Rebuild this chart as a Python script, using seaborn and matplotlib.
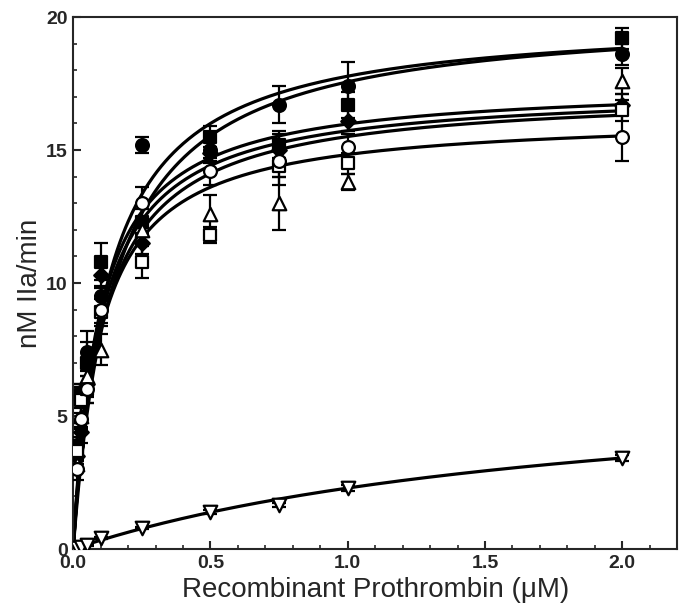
import numpy as np
import pandas as pd
import matplotlib
matplotlib.use('Agg')
import matplotlib.pyplot as plt
import seaborn as sns
from matplotlib.ticker import MultipleLocator

# Substrate concentration (uM)
prothrombin = [0, 0.015, 0.03, 0.05, 0.1, 0.25, 0.5, 0.75, 1.0, 2.0]

# Rates of IIa formation (nM IIa/min), with error bars
rate_fcircle = [0, 3.9, 5.9, 7.4, 9.5, 15.2, 15.0, 16.7, 17.4, 18.6]
err_fcircle = [0, 0.3, 0.3, 0.4, 0.4, 0.3, 0.4, 0.7, 0.9, 0.4]
rate_fsquare = [0, 3.6, 5.8, 7.0, 10.8, 12.3, 15.5, 15.2, 16.7, 19.2]
err_fsquare = [0, 0.3, 0.4, 1.2, 0.7, 0.5, 0.4, 0.5, 0.5, 0.4]
rate_fdiamond = [0, 3.5, 4.4, 6.2, 10.3, 11.5, 14.9, 15.0, 16.1, 16.7]
err_fdiamond = [0, 0.3, 0.4, 0.5, 0.5, 0.4, 0.4, 0.6, 0.4, 0.4]
rate_osquare = [0, 3.7, 5.6, 6.0, 8.9, 10.8, 11.8, 14.4, 14.5, 16.5]
err_osquare = [0, 0.4, 0.5, 0.5, 0.5, 0.6, 0.3, 0.7, 0.4, 0.4]
rate_otriangle = [0, 3.2, 5.0, 6.5, 7.5, 12.0, 12.6, 13.0, 13.8, 17.6]
err_otriangle = [0, 0.3, 0.4, 0.5, 0.6, 0.5, 0.7, 1.0, 0.3, 0.5]
rate_ocircle = [0, 3.0, 4.9, 6.0, 9.0, 13.0, 14.2, 14.6, 15.1, 15.5]
err_ocircle = [0, 0.4, 0.4, 0.5, 0.5, 0.6, 0.5, 0.6, 0.5, 0.9]
rate_otridown = [0, 0.03, 0.08, 0.15, 0.41, 0.79, 1.39, 1.65, 2.29, 3.42]
err_otridown = [0, 0.02, 0.02, 0.03, 0.05, 0.05, 0.08, 0.08, 0.1, 0.1]

# Michaelis-Menten fits drawn in the figure (Vmax nM/min, Km uM)
vmax_fit = [20.0, 20.2, 17.5, 17.3, 17.2, 16.3, 6.74]
km_fit = [0.125, 0.15, 0.095, 0.10, 0.109, 0.099, 1.94]

series = {
    'fcircle': (rate_fcircle, err_fcircle),
    'fsquare': (rate_fsquare, err_fsquare),
    'fdiamond': (rate_fdiamond, err_fdiamond),
    'osquare': (rate_osquare, err_osquare),
    'otriangle': (rate_otriangle, err_otriangle),
    'ocircle': (rate_ocircle, err_ocircle),
    'otridown': (rate_otridown, err_otridown),
}

# marker, face colour, size
styles = {
    'fcircle': ('o', 'black', 85),
    'fsquare': ('s', 'black', 75),
    'fdiamond': ('D', 'black', 55),
    'osquare': ('s', 'white', 75),
    'otriangle': ('^', 'white', 95),
    'ocircle': ('o', 'white', 85),
    'otridown': ('v', 'white', 95),
}

s_grid = np.linspace(0, 2.0, 400)
curves = []
for i, (vmax, km) in enumerate(zip(vmax_fit, km_fit)):
    curves.append(pd.DataFrame({'S': s_grid, 'V': vmax * s_grid / (km + s_grid), 'fit': i}))
curves = pd.concat(curves, ignore_index=True)

sns.set_style('ticks')
plt.rcParams['font.family'] = ['Liberation Sans', 'DejaVu Sans']

fig = plt.figure(figsize=(6.84, 6.10), dpi=100)
ax = fig.add_axes([0.107, 0.100, 0.883, 0.872])

sns.lineplot(data=curves, x='S', y='V', units='fit', estimator=None,
             color='black', lw=2.3, ax=ax, zorder=2)

for name, (rate, err) in series.items():
    marker, face, size = styles[name]
    ax.errorbar(prothrombin, rate, yerr=err, fmt='none', ecolor='black',
                elinewidth=1.6, capsize=5, capthick=1.6, zorder=3)
    sns.scatterplot(x=prothrombin, y=rate, marker=marker, s=size, color=face,
                    edgecolor='black', linewidth=1.6, ax=ax, zorder=4)

ax.set_xlim(0, 2.2)
ax.set_ylim(0, 20)
ax.set_xticks([0, 0.5, 1.0, 1.5, 2.0])
ax.set_xticklabels(['0.0', '0.5', '1.0', '1.5', '2.0'])
ax.set_yticks([0, 5, 10, 15, 20])
ax.xaxis.set_minor_locator(MultipleLocator(0.1))
ax.yaxis.set_minor_locator(MultipleLocator(1))
ax.tick_params(which='major', direction='in', length=6, width=1.5,
               labelsize=14, pad=4)
ax.tick_params(which='minor', direction='in', length=3, width=1.2)
for lab in ax.get_xticklabels() + ax.get_yticklabels():
    lab.set_fontweight('bold')
for sp in ax.spines.values():
    sp.set_visible(True)
    sp.set_linewidth(1.5)

ax.set_xlabel('Recombinant Prothrombin (\u03bcM)', fontsize=20, labelpad=4)
ax.set_ylabel('nM IIa/min', fontsize=20, labelpad=2)

fig.savefig('out.png', dpi=100)
